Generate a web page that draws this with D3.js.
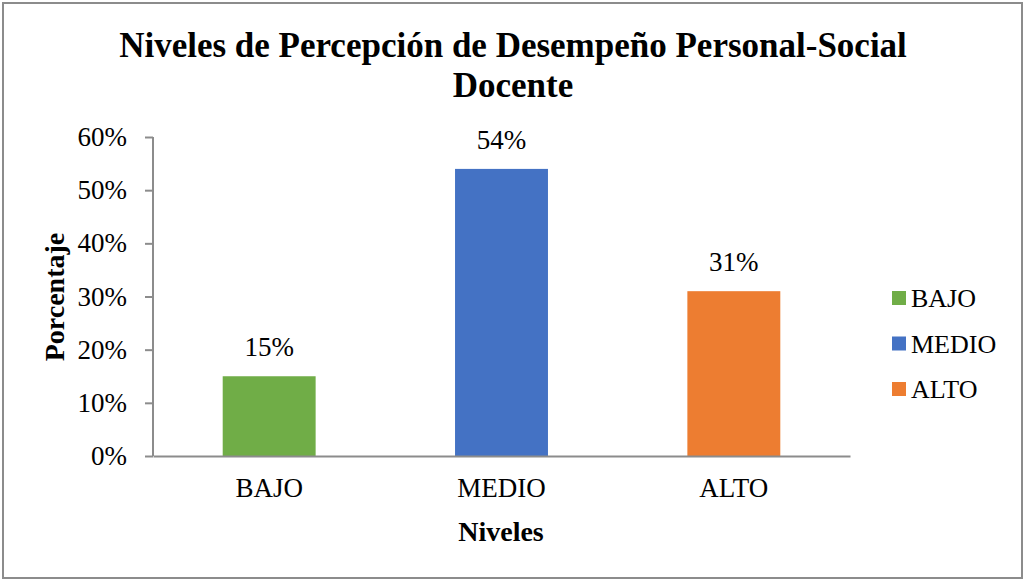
<!DOCTYPE html>
<html lang="es">
<head>
  <meta charset="UTF-8">
  <title>Niveles de Percepción</title>
  <script src="https://cdn.jsdelivr.net/npm/d3@7"></script>
  <style>
    body { margin: 0; background: #fff; }
    svg text { font-family: 'Liberation Serif', 'Times New Roman', Times, serif; fill: #000; }
  </style>
</head>
<body>
<svg width="1024" height="581"></svg>
<script>
  // data
  var niveles = ["BAJO", "MEDIO", "ALTO"];
  var porcentajes = [15, 54, 31];
  var colores = ["#70AD47", "#4472C4", "#ED7D31"];
  var yTicks = [0, 10, 20, 30, 40, 50, 60];

  var margin = { top: 137, left: 153, right: 174, bottom: 125 };
  var width = 1024 - margin.left - margin.right;
  var height = 581 - margin.top - margin.bottom;

  var svg = d3.select("svg");

  // outer frame
  svg.append("rect")
    .attr("x", 3).attr("y", 3)
    .attr("width", 1019).attr("height", 575)
    .attr("fill", "#fff")
    .attr("stroke", "#8c8c8c")
    .attr("stroke-width", 2);

  var g = svg.append("g")
    .attr("transform", "translate(" + margin.left + "," + margin.top + ")");

  var x = d3.scaleBand().domain(niveles).range([0, width]).paddingInner(0.6).paddingOuter(0.3);
  var y = d3.scaleLinear().domain([0, 60]).range([height, 0]);

  // title
  svg.append("text")
    .attr("x", 513).attr("y", 57)
    .attr("text-anchor", "middle")
    .style("font-size", "35px").style("font-weight", "bold")
    .text("Niveles de Percepción de Desempeño Personal-Social");
  svg.append("text")
    .attr("x", 513).attr("y", 97)
    .attr("text-anchor", "middle")
    .style("font-size", "35px").style("font-weight", "bold")
    .text("Docente");

  // y axis
  var yAxis = d3.axisLeft(y).tickValues(yTicks).tickSize(8).tickPadding(18)
    .tickFormat(function(d) { return d + "%"; });
  var yg = g.append("g").call(yAxis).attr("font-family", null);
  yg.select(".domain").attr("stroke", "#8c8c8c").attr("stroke-width", 2).attr("d", "M0," + height + "V0");
  yg.selectAll(".tick line").attr("stroke", "#8c8c8c").attr("stroke-width", 2);
  yg.selectAll(".tick text").style("font-size", "27px").attr("fill", "#000");

  // bars
  g.selectAll(".bar")
    .data(niveles)
    .enter().append("rect")
    .attr("class", "bar")
    .attr("x", function(d) { return x(d); })
    .attr("width", x.bandwidth())
    .attr("y", function(d, i) { return y(porcentajes[i]); })
    .attr("height", function(d, i) { return height - y(porcentajes[i]); })
    .attr("fill", function(d, i) { return colores[i]; });

  // value labels
  g.selectAll(".val")
    .data(niveles)
    .enter().append("text")
    .attr("class", "val")
    .attr("x", function(d) { return x(d) + x.bandwidth() / 2; })
    .attr("y", function(d, i) { return y(porcentajes[i]) - 20; })
    .attr("text-anchor", "middle")
    .style("font-size", "27px")
    .text(function(d, i) { return porcentajes[i] + "%"; });

  // x axis
  var xAxis = d3.axisBottom(x).tickSize(0).tickPadding(22);
  var xg = g.append("g").attr("transform", "translate(0," + height + ")").call(xAxis).attr("font-family", null);
  xg.select(".domain").attr("stroke", "#8c8c8c").attr("stroke-width", 2);
  xg.selectAll(".tick text").style("font-size", "27px").attr("fill", "#000");

  // axis titles
  svg.append("text")
    .attr("x", 501).attr("y", 541)
    .attr("text-anchor", "middle")
    .style("font-size", "28px").style("font-weight", "bold")
    .text("Niveles");
  svg.append("text")
    .attr("transform", "translate(64,297) rotate(-90)")
    .attr("text-anchor", "middle")
    .style("font-size", "28px").style("font-weight", "bold")
    .text("Porcentaje");

  // legend
  var legend = svg.append("g").attr("transform", "translate(892,291)");
  var item = legend.selectAll(".item")
    .data(niveles)
    .enter().append("g")
    .attr("transform", function(d, i) { return "translate(0," + (i * 45.5) + ")"; });
  item.append("rect")
    .attr("width", 14).attr("height", 14)
    .attr("fill", function(d, i) { return colores[i]; });
  item.append("text")
    .attr("x", 19).attr("y", 16)
    .style("font-size", "26px")
    .text(function(d) { return d; });
</script>
</body>
</html>
